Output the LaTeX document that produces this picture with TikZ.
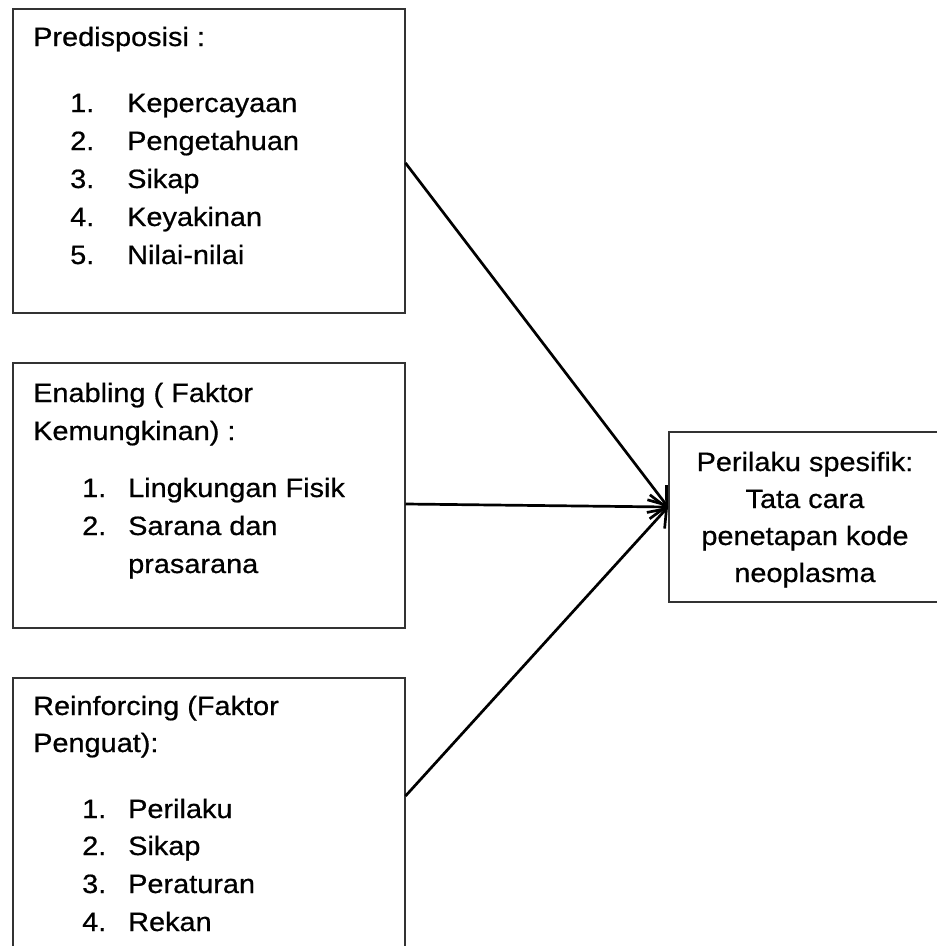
\documentclass[tikz,border=0pt]{standalone}
\usepackage{fontspec}
\setmainfont{Liberation Sans}[FakeStretch=1.09,FakeBold=0.6]
\usetikzlibrary{arrows.meta}
\newcommand\bodyfont{\fontsize{26.5pt}{38pt}\selectfont}
\newcommand\numA[2]{\makebox[57pt][l]{#1}#2}
\newcommand\numB[2]{\makebox[46pt][l]{#1}#2}
\begin{document}
\begin{tikzpicture}[x=1pt,y=-1pt,
  box/.style={draw=black!80,line width=1.5pt,rectangle,inner sep=0pt,anchor=north west},
  txt/.style={anchor=base west,inner sep=0pt,font=\bodyfont},
  ctxt/.style={anchor=base,inner sep=0pt,font=\bodyfont},
  conn/.style={draw=black,line width=2.7pt,-{Straight Barb[length=16pt,width=24pt,line width=2.7pt]}}]
\clip (0,0) rectangle (937,946);
\useasboundingbox (0,0) rectangle (937,946);
\fill[white] (0,0) rectangle (937,946);
% boxes
\node[box,minimum width=392pt,minimum height=304pt] (b1) at (12,8) {};
\node[box,minimum width=392pt,minimum height=265pt] (b2) at (12,362) {};
\node[box,minimum width=392pt,minimum height=320pt] (b3) at (12,677) {};
\node[box,minimum width=274pt,minimum height=170pt] (b4) at (668,431) {};
% box 1 text
\node[txt] (p0) at (33,46) {Predisposisi :};
\node[txt] (p1) at (70,112) {\numA{1.}{Kepercayaan}};
\node[txt] (p2) at (70,150) {\numA{2.}{Pengetahuan}};
\node[txt] (p3) at (70,188) {\numA{3.}{Sikap}};
\node[txt] (p4) at (70,226) {\numA{4.}{Keyakinan}};
\node[txt] (p5) at (70,264) {\numA{5.}{Nilai-nilai}};
% box 2 text
\node[txt] (e0) at (33,402) {Enabling ( Faktor};
\node[txt] (e0b) at (33,440) {Kemungkinan) :};
\node[txt] (e1) at (82,497) {\numB{1.}{Lingkungan Fisik}};
\node[txt] (e2) at (82,535) {\numB{2.}{Sarana dan}};
\node[txt] (e2b) at (128,573) {prasarana};
% box 3 text
\node[txt] (r0) at (33,715) {Reinforcing (Faktor};
\node[txt] (r0b) at (33,752) {Penguat):};
\node[txt] (r1) at (82,818) {\numB{1.}{Perilaku}};
\node[txt] (r2) at (82,855) {\numB{2.}{Sikap}};
\node[txt] (r3) at (82,893) {\numB{3.}{Peraturan}};
\node[txt] (r4) at (82,931) {\numB{4.}{Rekan}};
% box 4 text
\node[ctxt] (h1) at (805,471) {Perilaku spesifik:};
\node[ctxt] (h2) at (805,508) {Tata cara};
\node[ctxt] (h3) at (805,545) {penetapan kode};
\node[ctxt] (h4) at (805,582) {neoplasma};
% connectors
\coordinate (s1) at (b1.east |- 0,163);
\coordinate (s2) at (b2.east |- 0,504);
\coordinate (s3) at (b3.east |- 0,796);
\coordinate (t) at (b4.west |- 0,507);
\draw[conn] (s1) -- (t);
\draw[conn] (s2) -- (t);
\draw[conn] (s3) -- (t);
\end{tikzpicture}
\end{document}
